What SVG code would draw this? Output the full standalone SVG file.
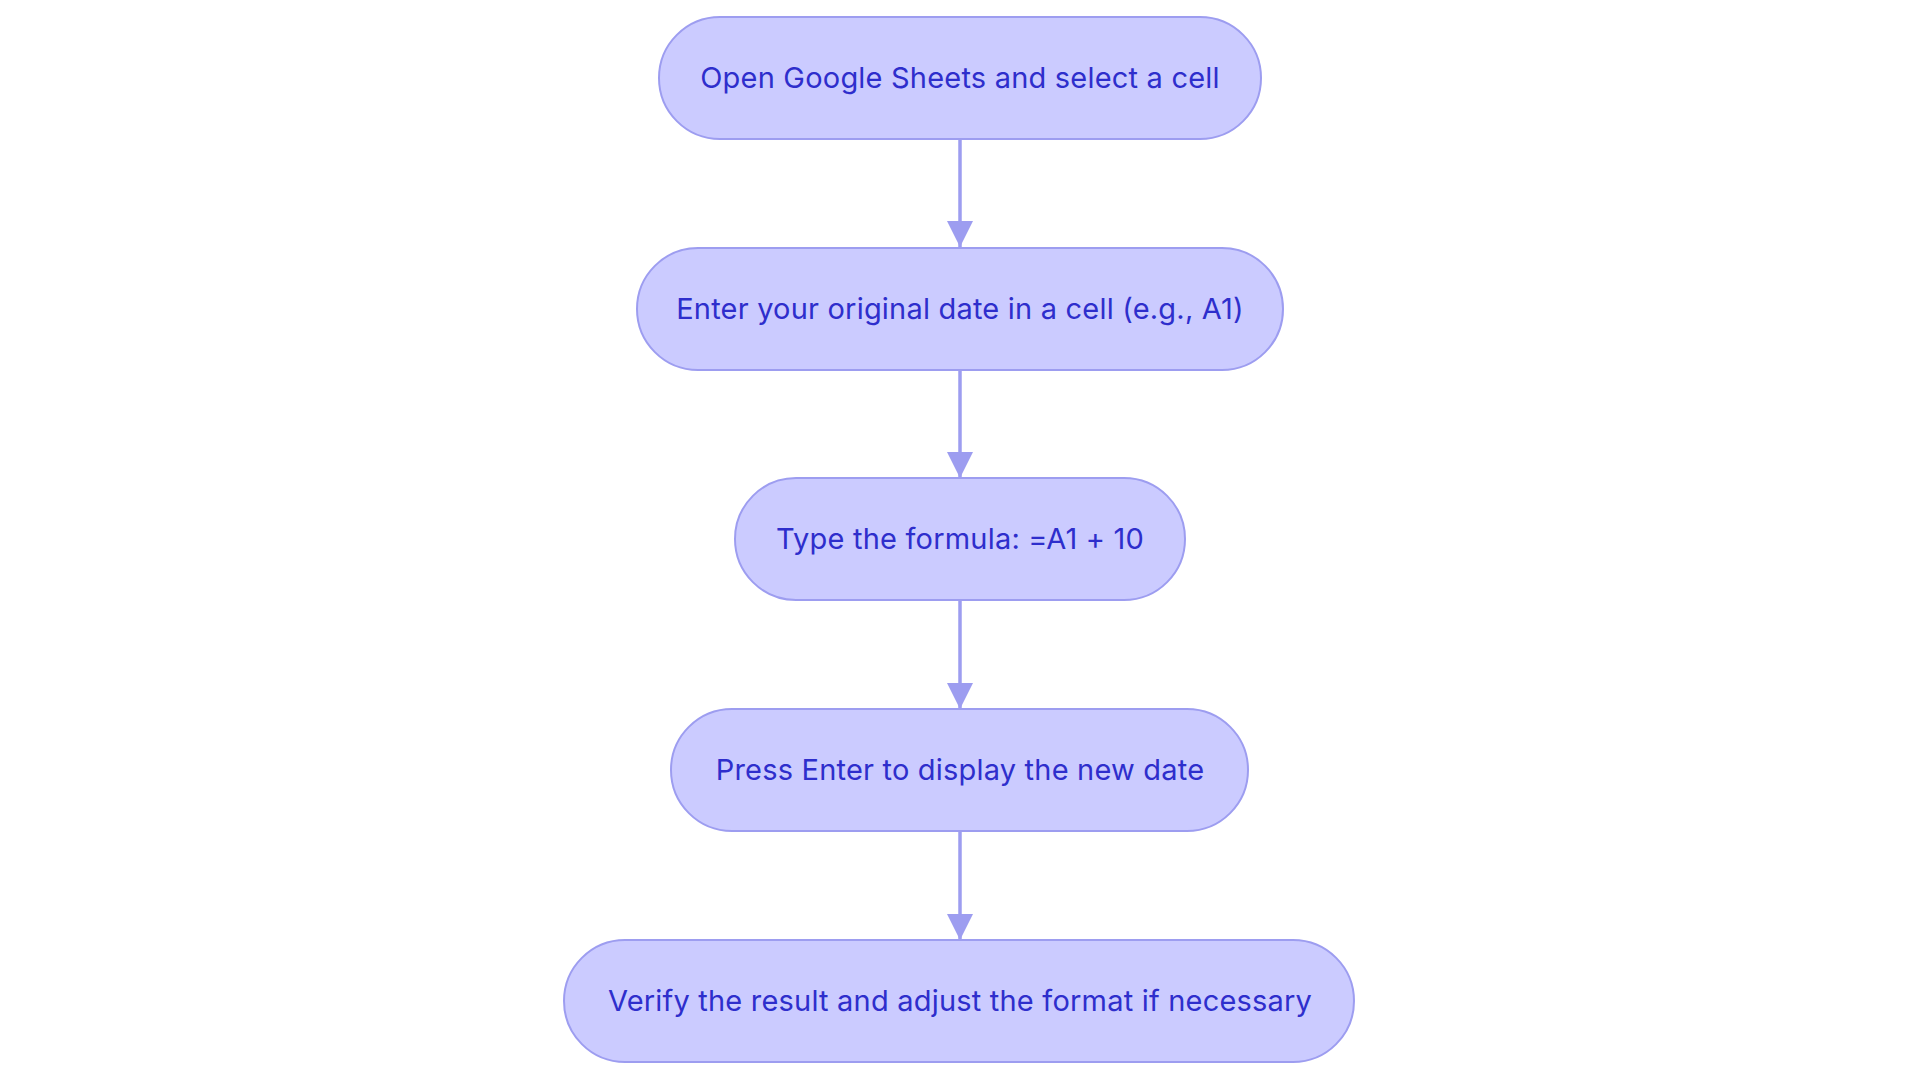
<svg xmlns="http://www.w3.org/2000/svg" width="1920" height="1083" viewBox="0 0 1920 1083">
<style>
.node rect{fill:#CBCBFF;stroke:#9D9DF0;stroke-width:2}
.node text{fill:#2E2ECC;font-family:Inter,"Noto Sans",sans-serif;font-size:29px;letter-spacing:0.2px;text-anchor:middle;dominant-baseline:central}
.edge{stroke:#9D9DF0;stroke-width:3.5;fill:none}
</style>
<defs>
<marker id="arrow" markerUnits="userSpaceOnUse" viewBox="0 0 26 26" refX="26" refY="13" markerWidth="26" markerHeight="26" orient="auto">
<path d="M0,0 L26,13 L0,26 Z" fill="#9D9DF0"/>
</marker>
</defs>
<rect width="1920" height="1083" fill="#FFFFFF"/>
<g id="connectors">
<line class="edge" x1="960" y1="139" x2="960" y2="247" marker-end="url(#arrow)"/>
<line class="edge" x1="960" y1="370" x2="960" y2="478" marker-end="url(#arrow)"/>
<line class="edge" x1="960" y1="600" x2="960" y2="709" marker-end="url(#arrow)"/>
<line class="edge" x1="960" y1="831" x2="960" y2="940" marker-end="url(#arrow)"/>
</g>
<g id="node1" class="node">
<rect x="659" y="17" width="602" height="122" rx="61" ry="61"/>
<text x="960" y="77">Open Google Sheets and select a cell</text>
</g>
<g id="node2" class="node">
<rect x="637" y="248" width="646" height="122" rx="61" ry="61"/>
<text x="960" y="308">Enter your original date in a cell (e.g., A1)</text>
</g>
<g id="node3" class="node">
<rect x="735" y="478" width="450" height="122" rx="61" ry="61"/>
<text x="960" y="538">Type the formula: =A1 + 10</text>
</g>
<g id="node4" class="node">
<rect x="671" y="709" width="577" height="122" rx="61" ry="61"/>
<text x="960" y="769">Press Enter to display the new date</text>
</g>
<g id="node5" class="node">
<rect x="564" y="940" width="790" height="122" rx="61" ry="61"/>
<text x="960" y="1000">Verify the result and adjust the format if necessary</text>
</g>
</svg>
